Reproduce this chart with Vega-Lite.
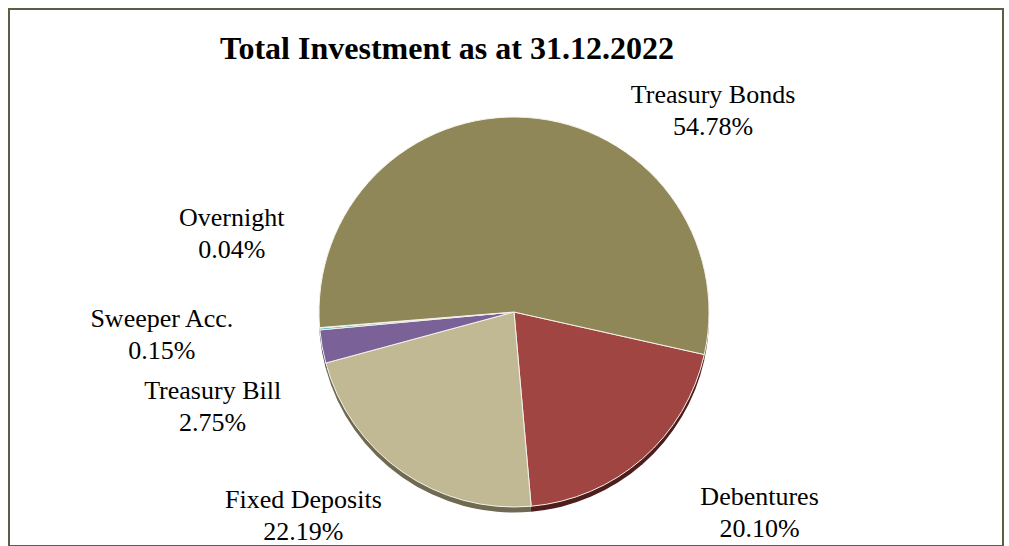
{
  "$schema": "https://vega.github.io/schema/vega-lite/v6.json",
  "width": 994,
  "height": 537,
  "autosize": "none",
  "padding": {"left": 9, "top": 9, "right": 6, "bottom": 0},
  "background": "white",
  "view": {"stroke": "#5E5C45", "strokeWidth": 2, "fill": "white"},
  "config": {
    "font": "Liberation Serif",
    "text": {"lineBreak": "\n"}
  },
  "layer": [
    {
      "data": {"values": [{"title": "Total Investment as at 31.12.2022"}]},
      "mark": {"type": "text", "font": "Liberation Serif", "fontSize": 32, "fontWeight": "bold", "color": "black", "align": "center", "baseline": "alphabetic", "dx": -59, "dy": -218.5},
      "encoding": {"text": {"field": "title", "type": "nominal"}}
    },
    {
      "data": {
        "values": [
          {"cat": "Debentures", "value": 20.10, "label": "Debentures\n20.10%"},
          {"cat": "Fixed Deposits", "value": 22.19, "label": "Fixed Deposits\n22.19%"},
          {"cat": "Treasury Bill", "value": 2.75, "label": "Treasury Bill\n2.75%"},
          {"cat": "Sweeper Acc.", "value": 0.15, "label": "Sweeper Acc.\n0.15%"},
          {"cat": "Overnight", "value": 0.04, "label": "Overnight\n0.04%"},
          {"cat": "Treasury Bonds", "value": 54.78, "label": "Treasury Bonds\n54.78%"}
        ]
      },
      "transform": [{"window": [{"op": "row_number", "as": "idx"}]}],
      "encoding": {
        "theta": {"field": "value", "type": "quantitative", "stack": true, "scale": {"range": [1.7907, 8.0739]}},
        "order": {"field": "idx", "type": "quantitative"}
      },
      "layer": [
        {
          "mark": {"type": "arc", "radius": 195, "xOffset": 8, "yOffset": 40},
          "encoding": {
            "color": {
              "field": "cat", "type": "nominal", "legend": null,
              "scale": {
                "domain": ["Debentures", "Fixed Deposits", "Treasury Bill", "Sweeper Acc.", "Overnight", "Treasury Bonds"],
                "range": ["#4E1E1C", "#6F6A52", "#433555", "#2A6070", "#8A5020", "#57522F"]
              }
            }
          }
        },
        {
          "mark": {"type": "arc", "radius": 195, "xOffset": 8, "yOffset": 34.5, "stroke": "#F4F2EA", "strokeWidth": 1},
          "encoding": {
            "color": {
              "field": "cat", "type": "nominal", "legend": null,
              "scale": {
                "domain": ["Debentures", "Fixed Deposits", "Treasury Bill", "Sweeper Acc.", "Overnight", "Treasury Bonds"],
                "range": ["#A04542", "#C1B994", "#7A6198", "#4BACC6", "#F79646", "#8F8758"]
              }
            }
          }
        },
        {
          "mark": {"type": "text", "radius": 230, "xOffset": 8, "yOffset": 34.5, "dx": 94, "dy": 12, "fontSize": 26, "lineHeight": 32, "align": "center", "baseline": "middle", "color": "black"},
          "encoding": {"text": {"condition": {"test": "datum.cat === 'Debentures'", "field": "label"}, "value": ""}}
        },
        {
          "mark": {"type": "text", "radius": 230, "xOffset": 8, "yOffset": 34.5, "dx": -79, "dy": -1, "fontSize": 26, "lineHeight": 32, "align": "center", "baseline": "middle", "color": "black"},
          "encoding": {"text": {"condition": {"test": "datum.cat === 'Fixed Deposits'", "field": "label"}, "value": ""}}
        },
        {
          "mark": {"type": "text", "radius": 230, "xOffset": 8, "yOffset": 34.5, "dx": -75, "dy": 38, "fontSize": 26, "lineHeight": 32, "align": "center", "baseline": "middle", "color": "black"},
          "encoding": {"text": {"condition": {"test": "datum.cat === 'Treasury Bill'", "field": "label"}, "value": ""}}
        },
        {
          "mark": {"type": "text", "radius": 230, "xOffset": 8, "yOffset": 34.5, "dx": -123, "dy": -13, "fontSize": 26, "lineHeight": 32, "align": "center", "baseline": "middle", "color": "black"},
          "encoding": {"text": {"condition": {"test": "datum.cat === 'Sweeper Acc.'", "field": "label"}, "value": ""}}
        },
        {
          "mark": {"type": "text", "radius": 230, "xOffset": 8, "yOffset": 34.5, "dx": -53, "dy": -113, "fontSize": 26, "lineHeight": 32, "align": "center", "baseline": "middle", "color": "black"},
          "encoding": {"text": {"condition": {"test": "datum.cat === 'Overnight'", "field": "label"}, "value": ""}}
        },
        {
          "mark": {"type": "text", "radius": 230, "xOffset": 8, "yOffset": 34.5, "dx": 183, "dy": 12, "fontSize": 26, "lineHeight": 32, "align": "center", "baseline": "middle", "color": "black"},
          "encoding": {"text": {"condition": {"test": "datum.cat === 'Treasury Bonds'", "field": "label"}, "value": ""}}
        }
      ],
      "resolve": {"scale": {"color": "independent"}}
    }
  ],
  "resolve": {"scale": {"color": "independent", "theta": "independent"}}
}
